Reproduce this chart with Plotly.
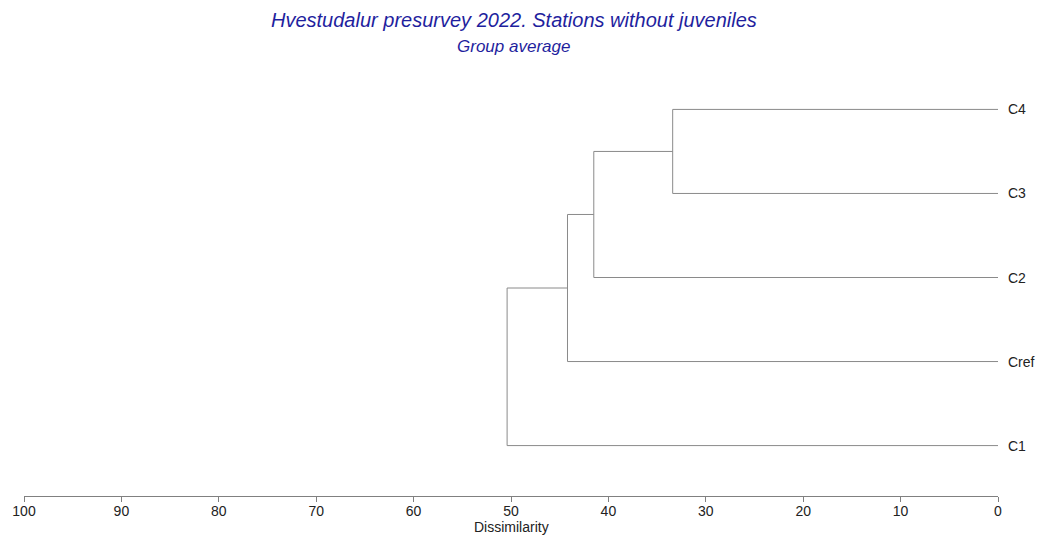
import plotly.graph_objects as go

# Data
leaves = ["C4", "C3", "C2", "Cref", "C1"]          # top to bottom
merge_heights = [33.4, 41.5, 44.2, 50.4]            # dissimilarity of successive merges
tick_vals = [100, 90, 80, 70, 60, 50, 40, 30, 20, 10, 0]

line_color = "#8a8a8a"
title_color = "#1f1f9e"
font_family = "Arial, Liberation Sans"

n = len(leaves)
leaf_y = {name: n - 1 - i for i, name in enumerate(leaves)}

xs, ys = [], []
cur_y = leaf_y[leaves[0]]
cur_h = 0.0
for k, h in enumerate(merge_heights):
    other = leaves[k + 1]
    oy = leaf_y[other]
    xs += [cur_h, h, None]
    ys += [cur_y, cur_y, None]
    xs += [0.0, h, None]
    ys += [oy, oy, None]
    xs += [h, h, None]
    ys += [cur_y, oy, None]
    cur_y = (cur_y + oy) / 2.0
    cur_h = h

fig = go.Figure()
fig.add_trace(go.Scatter(x=xs, y=ys, mode="lines",
                         line=dict(color=line_color, width=1),
                         hoverinfo="skip", showlegend=False))

for name in leaves:
    fig.add_annotation(x=0, y=leaf_y[name], xref="x", yref="y", text=name,
                       showarrow=False, xanchor="left", xshift=8,
                       font=dict(family=font_family, size=14, color="#222"))

fig.add_annotation(x=0.503, y=1, xref="paper", yref="paper", yshift=59 - 20,
                   text="<i>Hvestudalur presurvey 2022. Stations without juveniles</i>",
                   showarrow=False, xanchor="center", yanchor="middle",
                   font=dict(family=font_family, size=20, color=title_color))
fig.add_annotation(x=0.503, y=1, xref="paper", yref="paper", yshift=59 - 46,
                   text="<i>Group average</i>",
                   showarrow=False, xanchor="center", yanchor="middle",
                   font=dict(family=font_family, size=17, color=title_color))
# axis title
fig.add_annotation(x=0.5, y=0, xref="paper", yref="paper", yshift=-31,
                   text="Dissimilarity", showarrow=False,
                   xanchor="center", yanchor="middle",
                   font=dict(family=font_family, size=14, color="#222"))

fig.update_layout(
    width=1042, height=537,
    margin=dict(l=24, r=44, t=59, b=41, autoexpand=False),
    paper_bgcolor="white", plot_bgcolor="white",
    xaxis=dict(range=[100, 0], tickvals=tick_vals, showgrid=False, zeroline=False,
               showline=True, linecolor="#808080", linewidth=1,
               ticks="outside", ticklen=5, tickcolor="#808080",
               ticklabelstandoff=-3,
               tickfont=dict(family=font_family, size=14, color="#222")),
    yaxis=dict(range=[-0.6, 4.6], visible=False),
)

fig.write_html("out.html", config={"displayModeBar": False},
               post_script="document.body.style.margin='0';document.body.style.overflow='hidden';")
